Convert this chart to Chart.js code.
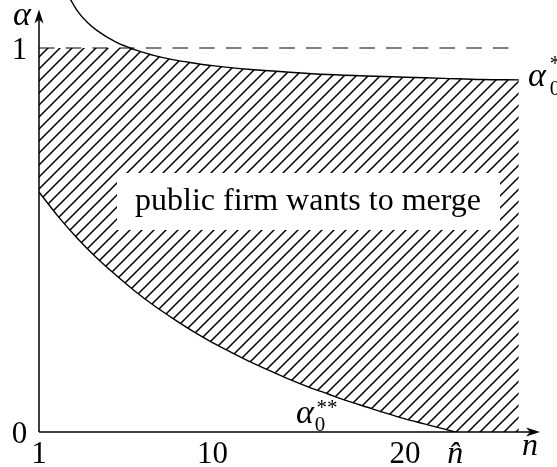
<!DOCTYPE html>
<html>
<head>
<meta charset="utf-8">
<script src="https://cdn.jsdelivr.net/npm/chart.js@4/dist/chart.umd.min.js"></script>
<style>
  html, body { margin: 0; padding: 0; background: #fff; }
  #wrap { width: 557px; height: 467px; }
</style>
</head>
<body>
<div id="wrap"><canvas id="c"></canvas></div>
<script>
// alpha_0^** : lower boundary, reaches 0 at n-hat
const nLow = [1, 2, 3, 4, 5, 6, 7, 8, 9, 10, 11, 12, 13, 14, 15, 16, 17, 18, 19, 20, 21, 22, 22.6];
const alphaLow = [0.625, 0.561, 0.504, 0.453, 0.408, 0.366, 0.328, 0.294, 0.262, 0.233, 0.207, 0.182,
                  0.159, 0.137, 0.117, 0.099, 0.081, 0.065, 0.049, 0.034, 0.021, 0.008, 0];
// alpha_0^* : upper curve, crosses 1 near n = 5.7
const nHigh = [2.4, 3, 3.5, 4, 5, 5.72, 6, 7, 8, 9, 10, 12, 14, 16, 18, 20, 22, 24, 25.9];
const alphaHigh = [1.147, 1.096, 1.067, 1.046, 1.015, 1.0, 0.995, 0.980, 0.969, 0.961, 0.954, 0.944,
                   0.937, 0.931, 0.927, 0.924, 0.921, 0.918, 0.917];

const nEnd = 25.9;
const nHat = 22.6;
const xTicks = [1, 10, 20, nHat];
const xTickLabels = ['1', '10', '20', 'n\u0302'];
const yTicks = [0, 1];
const yTickLabels = ['0', '1'];
const regionText = 'public firm wants to merge';

const serif = '"Liberation Serif", "Times New Roman", serif';

function hatch() {
    const s = 12;
    const c = document.createElement('canvas');
    c.width = s; c.height = s;
    const g = c.getContext('2d');
    g.strokeStyle = '#000';
    g.lineWidth = 1.5;
    g.beginPath();
    // lines x + y = k, so they tile across cells
    for (const k of [0, s, 2 * s]) {
        g.moveTo(k + 2, -2);
        g.lineTo(-2, k + 2);
    }
    g.stroke();
    return g.createPattern(c, 'repeat');
}

const pts = (xs, ys) => xs.map((x, i) => ({ x: x, y: ys[i] }));

const lowerEdge = pts(nLow, alphaLow).concat([{ x: nEnd, y: 0 }]);
const upperEdge = [{ x: 1, y: 1 }].concat(pts(nHigh, alphaHigh).filter(p => p.y <= 1));

const overlay = {
    id: 'overlay',
    afterDatasetsDraw(chart) {
        const { ctx, scales: { x, y } } = chart;
        ctx.save();

        // white label box
        ctx.fillStyle = '#fff';
        ctx.fillRect(117, 173, 383, 57);
        ctx.fillStyle = '#000';
        ctx.font = '32px ' + serif;
        ctx.textAlign = 'center';
        ctx.textBaseline = 'alphabetic';
        ctx.fillText(regionText, 308, 210);

        // axes
        const x0 = x.getPixelForValue(1), y0 = y.getPixelForValue(0);
        const xTip = x.getPixelForValue(27), yTip = y.getPixelForValue(1.1);
        ctx.strokeStyle = '#000';
        ctx.lineWidth = 1.5;
        ctx.beginPath();
        ctx.moveTo(x0, y0); ctx.lineTo(xTip - 6, y0);
        ctx.moveTo(x0, y0); ctx.lineTo(x0, yTip + 6);
        ctx.stroke();
        ctx.beginPath();
        ctx.moveTo(xTip, y0);
        ctx.lineTo(xTip - 14, y0 - 4.5);
        ctx.lineTo(xTip - 10, y0);
        ctx.lineTo(xTip - 14, y0 + 4.5);
        ctx.closePath();
        ctx.moveTo(x0, yTip);
        ctx.lineTo(x0 - 4.5, yTip + 14);
        ctx.lineTo(x0, yTip + 10);
        ctx.lineTo(x0 + 4.5, yTip + 14);
        ctx.closePath();
        ctx.fill();

        // tick labels
        xTicks.forEach((v, i) => {
            ctx.font = (v === nHat ? 'italic 32px ' : '31px ') + serif;
            ctx.fillText(xTickLabels[i], x.getPixelForValue(v), 463);
        });
        ctx.font = '31px ' + serif;
        yTicks.forEach((v, i) => {
            ctx.fillText(yTickLabels[i], 19.5, y.getPixelForValue(v) + 10.5);
        });
        ctx.font = 'italic 32px ' + serif;
        ctx.fillText('n', 530, 455);

        // axis name and curve labels
        ctx.textBaseline = 'middle';
        ctx.font = 'italic 34px ' + serif;
        ctx.fillText('\u03b1', 22, 16);
        ctx.fillText('\u03b1', 537, 77);
        ctx.fillText('\u03b1', 305, 414);
        ctx.font = '21px ' + serif;
        ctx.fillText('0', 555, 89);
        ctx.fillText('0', 320, 425);
        ctx.fillText('*', 555, 64);
        ctx.fillText('**', 327, 408);
        ctx.restore();
    }
};

new Chart(document.getElementById('c'), {
    type: 'line',
    data: {
        datasets: [
            { data: pts(nLow, alphaLow), borderColor: '#000', borderWidth: 1.4, pointRadius: 0, fill: false, cubicInterpolationMode: 'monotone' },
            { data: pts(nHigh, alphaHigh), borderColor: '#000', borderWidth: 1.4, pointRadius: 0, fill: false, cubicInterpolationMode: 'monotone' },
            { data: [{ x: 1, y: 1 }, { x: nEnd, y: 1 }], borderColor: '#000', borderWidth: 1.2, borderDash: [15.5, 11.2], pointRadius: 0, fill: false },
            { data: lowerEdge, borderWidth: 0, borderColor: 'transparent', pointRadius: 0, fill: false, cubicInterpolationMode: 'monotone' },
            { data: upperEdge, borderWidth: 0, borderColor: 'transparent', pointRadius: 0, fill: '-1', backgroundColor: hatch(), cubicInterpolationMode: 'monotone' }
        ]
    },
    options: {
        responsive: true,
        maintainAspectRatio: false,
        animation: false,
        devicePixelRatio: 1,
        layout: { padding: { left: 39, right: 17, top: 0, bottom: 35 } },
        plugins: { legend: { display: false }, tooltip: { enabled: false } },
        scales: {
            x: { type: 'linear', min: 1, max: 27, display: false },
            y: { type: 'linear', min: 0, max: 1.125, display: false }
        }
    },
    plugins: [overlay]
});
</script>
</body>
</html>
